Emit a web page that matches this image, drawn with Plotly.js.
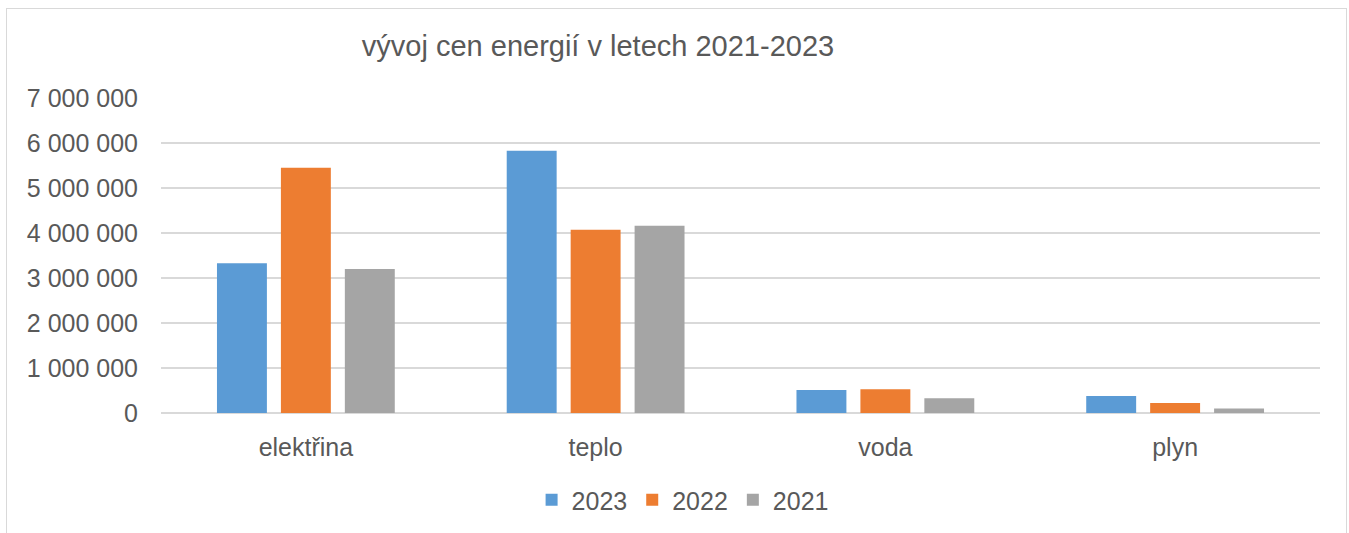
<!DOCTYPE html>
<html>
<head>
<meta charset="utf-8">
<script src="https://cdn.plot.ly/plotly-3.0.1.min.js"></script>
<style>
  html, body { margin: 0; padding: 0; background: #ffffff; }
  #wrap { position: relative; width: 1349px; height: 533px; overflow: hidden; }
  #frame { position: absolute; left: 6px; top: 8px; width: 1341px; height: 560px; border: 1px solid #d9d9d9; box-sizing: border-box; }
  #chart { position: absolute; left: 0; top: 0; width: 1349px; height: 533px; }
</style>
</head>
<body>
<div id="wrap">
  <div id="frame"></div>
  <div id="chart"></div>
</div>
<script>
const categories = ["elektřina", "teplo", "voda", "plyn"];
const seriesNames = ["2023", "2022", "2021"];
const values2023 = [3330000, 5830000, 510000, 380000];
const values2022 = [5450000, 4070000, 530000, 220000];
const values2021 = [3200000, 4160000, 330000, 100000];
const colors = ["#5B9BD5", "#ED7D31", "#A5A5A5"];
const titleText = "vývoj cen energií v letech 2021-2023";

const allValues = [values2023, values2022, values2021];
const traces = allValues.map((vals, i) => ({
  type: "bar",
  name: seriesNames[i],
  x: categories,
  y: vals,
  marker: { color: colors[i] },
  hoverinfo: "x+y+name"
}));

const fontFamily = "Liberation Sans, Arial, sans-serif";
const layout = {
  width: 1349,
  height: 533,
  paper_bgcolor: "rgba(0,0,0,0)",
  plot_bgcolor: "rgba(0,0,0,0)",
  margin: { l: 161, r: 29, t: 98, b: 120 },
  separators: ", ",
  font: { family: fontFamily, color: "#595959" },
  title: {
    text: titleText,
    font: { size: 29, color: "#595959", family: fontFamily },
    x: 598 / 1349, xanchor: "center", xref: "container",
    y: 1 - 46 / 533, yanchor: "middle", yref: "container"
  },
  barmode: "group",
  bargap: 0.338,
  bargroupgap: 0.219,
  xaxis: {
    type: "category",
    automargin: false,
    showgrid: false,
    showline: false,
    zeroline: false,
    ticks: "",
    tickfont: { size: 25, color: "#595959" },
    ticklabelstandoff: 17
  },
  yaxis: {
    automargin: false,
    range: [0, 7000000],
    dtick: 1000000,
    tick0: 0,
    tickformat: ",d",
    showgrid: true,
    gridcolor: "#d9d9d9",
    gridwidth: 1.5,
    zeroline: true,
    zerolinecolor: "#d9d9d9",
    zerolinewidth: 1.5,
    showline: false,
    ticks: "",
    tickfont: { size: 25, color: "#595959" },
    ticklabelstandoff: 22
  },
  legend: {
    orientation: "h",
    x: 0.506, xanchor: "center", xref: "container",
    y: 1 - 500 / 533, yanchor: "middle", yref: "container",
    font: { size: 25, color: "#595959" },
    itemwidth: 30,
    traceorder: "normal"
  },
  showlegend: true
};

Plotly.newPlot("chart", traces, layout, { displayModeBar: false, staticPlot: false });
</script>
</body>
</html>
